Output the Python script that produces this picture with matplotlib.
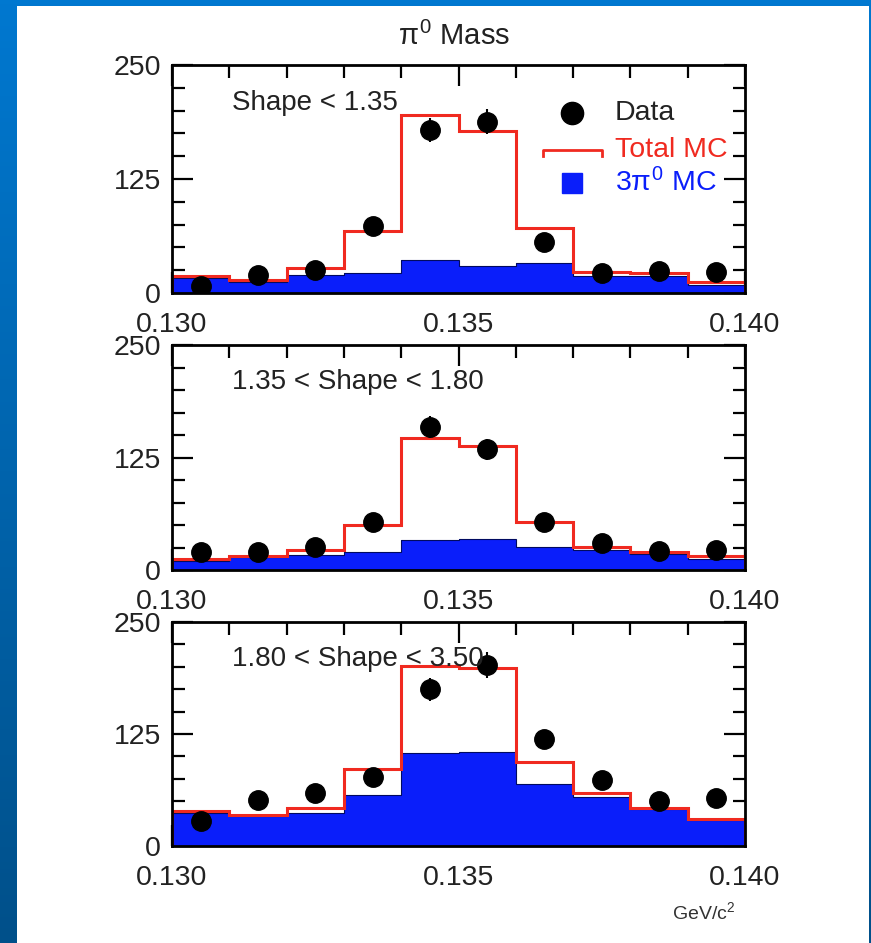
"""pi0 mass distributions in three shower-shape slices: data vs total MC and 3pi0 MC."""

import numpy as np
import matplotlib
matplotlib.use('Agg')
import matplotlib.pyplot as plt
from matplotlib.ticker import MultipleLocator, FormatStrFormatter
from matplotlib.colors import LinearSegmentedColormap
from matplotlib.patches import Rectangle

plt.rcParams['font.family'] = ['Liberation Sans', 'DejaVu Sans']
plt.rcParams['mathtext.fontset'] = 'custom'
plt.rcParams['mathtext.rm'] = 'Liberation Sans'
plt.rcParams['mathtext.it'] = 'Liberation Sans'

bin_edges = [0.130, 0.131, 0.132, 0.133, 0.134, 0.135, 0.136, 0.137, 0.138, 0.139, 0.140]
bin_centers = [0.1305, 0.1315, 0.1325, 0.1335, 0.1345, 0.1355, 0.1365, 0.1375, 0.1385, 0.1395]

slice_labels = ['Shape < 1.35', '1.35 < Shape < 1.80', '1.80 < Shape < 3.50']

total_mc_1 = [18.5, 14, 27, 68.5, 195.5, 178, 71, 23, 21.5, 12]
pi3_mc_1 = [16.7, 12, 20, 22, 36, 30, 32.6, 19, 18.5, 8.5]
data_1 = [7.4, 20, 25, 74, 179, 188, 55.5, 22, 24, 23]
err_1 = [3, 4.5, 5, 8.6, 13.4, 13.7, 7.5, 4.7, 4.9, 4.8]

total_mc_2 = [12, 16, 22, 50, 147, 138, 53.5, 26, 19.5, 16]
pi3_mc_2 = [10, 14, 17, 19.5, 33.6, 35, 26, 22.5, 17.7, 12]
data_2 = [19.5, 19.5, 26, 53, 159, 134, 53, 30, 20.7, 22]
err_2 = [4.4, 4.4, 5.1, 7.3, 12.6, 11.6, 7.3, 5.5, 4.5, 4.7]

total_mc_3 = [39, 34.6, 42, 86, 200.7, 199, 93.7, 59.5, 42.8, 30.5]
pi3_mc_3 = [36.4, 33.5, 37, 56.5, 104, 105, 68.8, 54.6, 41, 29]
data_3 = [28, 51, 59.5, 77, 174.7, 201.9, 119, 73.6, 50, 54]
err_3 = [5.3, 7.1, 7.7, 8.8, 13.2, 14.2, 10.9, 8.6, 7.1, 7.3]

RED = '#f02a20'
BLUE = '#0a1efa'
W, H = 871, 943

fig = plt.figure(figsize=(W / 100, H / 100), dpi=100)

# blue slide background with a vertical gradient and a white panel
bg = fig.add_axes([0, 0, 1, 1])
bg.set_axis_off()
cmap = LinearSegmentedColormap.from_list('slide', ['#0078d0', '#00508a'])
bg.imshow(np.linspace(0, 1, 256).reshape(-1, 1), cmap=cmap, aspect='auto',
          extent=[0, 1, 0, 1], origin='upper')
bg.add_patch(Rectangle((17 / W, 0), (869 - 17) / W, (H - 6) / H,
                       facecolor='white', edgecolor='none'))
bg.set_xlim(0, 1)
bg.set_ylim(0, 1)

left = 172 / W
width = (745 - 172) / W
panels = [(65, 293), (345, 570), (622, 846)]
series = [(total_mc_1, pi3_mc_1, data_1, err_1),
          (total_mc_2, pi3_mc_2, data_2, err_2),
          (total_mc_3, pi3_mc_3, data_3, err_3)]

axes = []
for (top, bot), (tot, pi3, dat, err), label in zip(panels, series, slice_labels):
    ax = fig.add_axes([left, 1 - bot / H, width, (bot - top) / H])
    ax.set_facecolor('none')
    ax.stairs(pi3, bin_edges, fill=True, color=BLUE, zorder=2)
    ax.stairs(pi3, bin_edges, color='#000a60', lw=0.8, zorder=2.1)
    ax.stairs(tot, bin_edges, color=RED, lw=2.2, zorder=3)
    ax.errorbar(bin_centers, dat, yerr=err, fmt='o', color='black',
                ms=14, elinewidth=1.5, capsize=0, zorder=4)
    ax.set_xlim(0.130, 0.140)
    ax.set_ylim(0, 250)
    ax.xaxis.set_major_locator(MultipleLocator(0.005))
    ax.xaxis.set_minor_locator(MultipleLocator(0.001))
    ax.xaxis.set_major_formatter(FormatStrFormatter('%.3f'))
    ax.yaxis.set_major_locator(MultipleLocator(125))
    ax.yaxis.set_minor_locator(MultipleLocator(25))
    ax.tick_params(which='both', direction='in', top=True, right=True,
                   labelsize=20.5, width=1.6, colors='black',
                   labelcolor='#222222')
    ax.tick_params(axis='x', which='major', length=15, pad=14)
    ax.tick_params(axis='x', which='minor', length=9)
    ax.tick_params(axis='y', which='major', length=15, pad=8)
    ax.tick_params(axis='y', which='minor', length=9)
    for s in ax.spines.values():
        s.set_linewidth(2)
        s.set_zorder(5)
    ax.text(0.105, 0.835, label, transform=ax.transAxes, fontsize=20,
            va='center', ha='left', color='#222222', zorder=6)
    axes.append(ax)

# legend in the top panel, drawn by hand like the ROOT one
ax = axes[0]
tr = ax.transAxes
ax.plot([0.698], [0.789], 'o', color='black', ms=16, transform=tr,
        clip_on=False, zorder=6)
ax.text(0.773, 0.789, 'Data', transform=tr, fontsize=20.5, va='center',
        color='#222222')
ax.plot([0.647, 0.647, 0.750, 0.750], [0.600, 0.627, 0.627, 0.600],
        color=RED, lw=2, transform=tr, zorder=6)
ax.text(0.773, 0.627, 'Total MC', transform=tr, fontsize=20.5, va='center',
        color=RED)
ax.plot([0.698], [0.482], 's', color=BLUE, ms=14, transform=tr, zorder=6)
ax.text(0.773, 0.482, r'3$\pi^0$ MC', transform=tr, fontsize=20.5,
        va='center', color=BLUE)

fig.text(454 / W, 1 - 36 / H, r'$\pi^0$ Mass', fontsize=21, ha='center',
         va='center', color='#222222')
fig.text(735 / W, 1 - 912 / H, r'GeV/c$^2$', fontsize=14, ha='right',
         va='center', color='#333333')

fig.savefig('out.png', dpi=100)
